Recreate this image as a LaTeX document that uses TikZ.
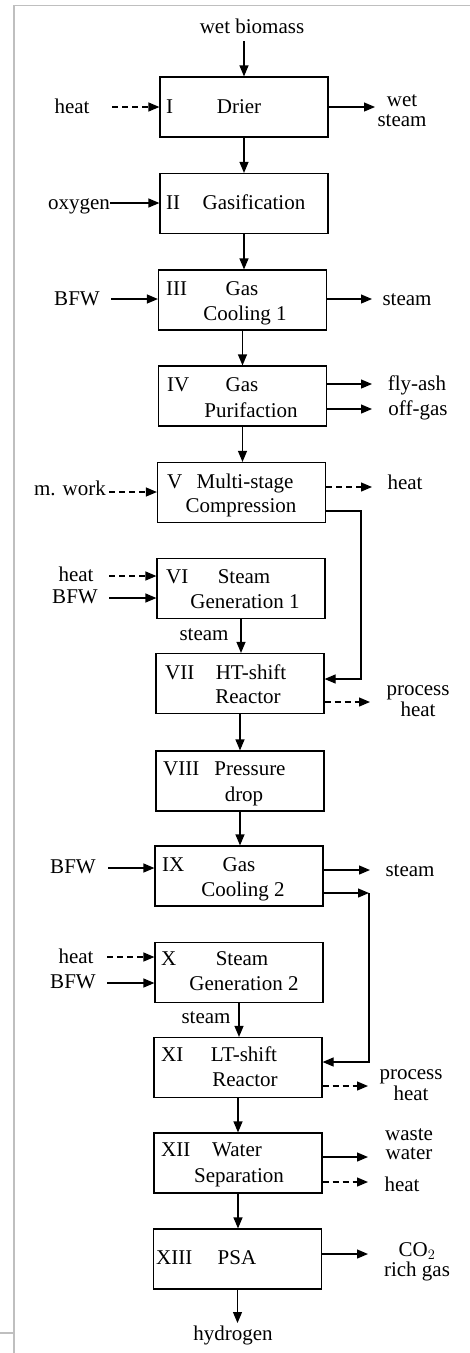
\documentclass[tikz,border=0pt]{standalone}
\usepackage{fontspec}
\setmainfont{Liberation Serif}
\usetikzlibrary{arrows.meta}
\begin{document}
\begin{tikzpicture}[x=1pt,y=-1pt,
  proc/.style={draw, line width=1.2pt, minimum width=168pt, minimum height=60pt, inner sep=0pt},
  lbl/.style={font=\fontsize{21}{22}\selectfont, inner sep=0pt, anchor=base},
  two/.style={font=\fontsize{21}{#1}\selectfont, inner sep=0pt, anchor=base, align=center},
  num/.style={lbl, anchor=base west},
  flow/.style={line width=1.2pt, -{Triangle[length=11pt,width=9pt]}},
  dflow/.style={flow, dash pattern=on 6pt off 4pt},
  frame/.style={draw=gray!50, line width=1.5pt}]
\useasboundingbox (0,0) rectangle (470,1353);
% frame
\coordinate (f1) at (470,5.5);
\coordinate (f2) at (14,5.5);
\coordinate (f3) at (14,1353);
\coordinate (f4) at (0,1333);
\coordinate (f5) at (14,1333);
\draw[frame] (f1) -- (f2) -- (f3);
\draw[frame] (f4) -- (f5);

% boxes
\node[proc] (b1) at (244,107) {};
\node[proc] (b2) at (244,203.5) {};
\node[proc] (b3) at (242.5,300) {};
\node[proc] (b4) at (242.5,396) {};
\node[proc] (b5) at (241.5,492.5) {};
\node[proc] (b6) at (241,588.5) {};
\node[proc] (b7) at (240,683.5) {};
\node[proc] (b8) at (240,781) {};
\node[proc] (b9) at (239,876) {};
\node[proc] (b10) at (239,972.5) {};
\node[proc] (b11) at (238,1067.5) {};
\node[proc] (b12) at (238,1163) {};
\node[proc] (b13) at (237.5,1259) {};

% box texts
\node[num] (n1) at (166,113) {I};
\node[lbl] (t1) at (239,113) {Drier};
\node[num] (n2) at (166,209) {II};
\node[lbl] (t2) at (254,209) {Gasification};
\node[num] (n3) at (166,295) {III};
\node[lbl] (t3a) at (242,295) {Gas};
\node[lbl] (t3b) at (245,320) {Cooling 1};
\node[num] (n4) at (167,391) {IV};
\node[lbl] (t4a) at (242,391) {Gas};
\node[lbl] (t4b) at (251,417) {Purifaction};
\node[num] (n5) at (167,488) {V};
\node[lbl] (t5a) at (245,488) {Multi-stage};
\node[lbl] (t5b) at (241,512) {Compression};
\node[num] (n6) at (166,583) {VI};
\node[lbl] (t6a) at (244,583) {Steam};
\node[lbl] (t6b) at (245,608) {Generation 1};
\node[num] (n7) at (165,679) {VII};
\node[lbl] (t7a) at (251,679) {HT-shift};
\node[lbl] (t7b) at (248,703) {Reactor};
\node[num] (n8) at (163,775) {VIII};
\node[lbl] (t8a) at (250,775) {Pressure};
\node[lbl] (t8b) at (244,801) {drop};
\node[num] (n9) at (162,871) {IX};
\node[lbl] (t9a) at (239,871) {Gas};
\node[lbl] (t9b) at (243,896) {Cooling 2};
\node[num] (n10) at (161,965) {X};
\node[lbl] (t10a) at (242,965) {Steam};
\node[lbl] (t10b) at (244,990) {Generation 2};
\node[num] (n11) at (161,1061) {XI};
\node[lbl] (t11a) at (244,1061) {LT-shift};
\node[lbl] (t11b) at (245,1086) {Reactor};
\node[num] (n12) at (161,1156) {XII};
\node[lbl] (t12a) at (237,1156) {Water};
\node[lbl] (t12b) at (239,1182) {Separation};
\node[num] (n13) at (156,1264) {XIII};
\node[lbl] (t13) at (237,1264) {PSA};

% outer labels
\node[lbl] (lwb) at (252,33) {wet biomass};
\node[lbl] (lh1) at (72,113) {heat};
\node[two=20] (lws) at (402,126) {wet\\steam};
\node[lbl] (lox) at (79,209) {oxygen};
\node[lbl] (lbfw3) at (77,305) {BFW};
\node[lbl] (lst3) at (407,305) {steam};
\node[lbl] (lfa) at (417,390) {fly-ash};
\node[lbl] (log) at (418,415) {off-gas};
\node[lbl] (lmw) at (70,495) {m. work};
\node[lbl] (lh5) at (405,489) {heat};
\node[lbl] (lh6) at (76,581) {heat};
\node[lbl] (lbfw6) at (75,603) {BFW};
\node[lbl] (lst6) at (204,640) {steam};
\node[two=18] (lph7) at (418,716) {process\\heat};
\node[lbl] (lbfw9) at (73,873) {BFW};
\node[lbl] (lst9) at (410,876) {steam};
\node[lbl] (lh10) at (76,963) {heat};
\node[lbl] (lbfw10) at (73,988) {BFW};
\node[lbl] (lst10) at (206,1023) {steam};
\node[two=18] (lph11) at (411,1100) {process\\heat};
\node[two=19] (lww) at (409,1159) {waste\\water};
\node[lbl] (lh12) at (402,1191) {heat};
\node[two=20] (lco) at (417,1276) {CO$_2$\\rich gas};
\node[lbl] (lhy) at (233,1340) {hydrogen};

% connector end points
\coordinate (c0) at (244,41);
\coordinate (s1) at (112,107);
\coordinate (e1) at (375,107);
\coordinate (s2) at (110,203);
\coordinate (s3) at (111,299);
\coordinate (e3) at (372,299);
\coordinate (e4a) at (372,384);
\coordinate (e4b) at (372,409);
\coordinate (s5) at (109,492);
\coordinate (e5) at (372,487);
\coordinate (r5a) at (361,511);
\coordinate (r5b) at (361,679);
\coordinate (s6a) at (109,576);
\coordinate (s6b) at (109,598);
\coordinate (e7) at (370,702);
\coordinate (s9) at (108,868);
\coordinate (e9) at (370,870);
\coordinate (r9a) at (369,893);
\coordinate (r9b) at (369,1062);
\coordinate (s10a) at (107,957);
\coordinate (s10b) at (107,983);
\coordinate (e11) at (368,1086);
\coordinate (e12a) at (368,1157);
\coordinate (e12b) at (368,1182);
\coordinate (e13) at (368,1254);
\coordinate (c14) at (237.5,1323);

% main chain
\draw[flow] (c0) -- (c0 |- b1.north);
\draw[flow] (b1.south) -- (b1.south |- b2.north);
\draw[flow] (b2.south) -- (b2.south |- b3.north);
\draw[flow] (b3.south) -- (b3.south |- b4.north);
\draw[flow] (b4.south) -- (b4.south |- b5.north);
\draw[flow] (b6.south) -- (b6.south |- b7.north);
\draw[flow] (b7.south) -- (b7.south |- b8.north);
\draw[flow] (b8.south) -- (b8.south |- b9.north);
\draw[flow] (b10.south) -- (b10.south |- b11.north);
\draw[flow] (b11.south) -- (b11.south |- b12.north);
\draw[flow] (b12.south) -- (b12.south |- b13.north);
\draw[flow] (b13.south) -- (c14);

% inputs
\draw[dflow] (s1) -- (s1 -| b1.west);
\draw[flow] (s2) -- (s2 -| b2.west);
\draw[flow] (s3) -- (s3 -| b3.west);
\draw[dflow] (s5) -- (s5 -| b5.west);
\draw[dflow] (s6a) -- (s6a -| b6.west);
\draw[flow] (s6b) -- (s6b -| b6.west);
\draw[flow] (s9) -- (s9 -| b9.west);
\draw[dflow] (s10a) -- (s10a -| b10.west);
\draw[flow] (s10b) -- (s10b -| b10.west);

% outputs
\draw[flow] (b1.east |- e1) -- (e1);
\draw[flow] (b3.east |- e3) -- (e3);
\draw[flow] (b4.east |- e4a) -- (e4a);
\draw[flow] (b4.east |- e4b) -- (e4b);
\draw[dflow] (b5.east |- e5) -- (e5);
\draw[dflow] (b7.east |- e7) -- (e7);
\draw[flow] (b9.east |- e9) -- (e9);
\draw[dflow] (b11.east |- e11) -- (e11);
\draw[flow] (b12.east |- e12a) -- (e12a);
\draw[dflow] (b12.east |- e12b) -- (e12b);
\draw[flow] (b13.east |- e13) -- (e13);

% bypass loops
\draw[flow] (b5.east |- r5a) -- (r5a) -- (r5b) -- (b7.east |- r5b);
\draw[flow] (b9.east |- r9a) -- (r9a);
\draw[flow] (r9a) -- (r9b) -- (b11.east |- r9b);
\end{tikzpicture}
\end{document}
